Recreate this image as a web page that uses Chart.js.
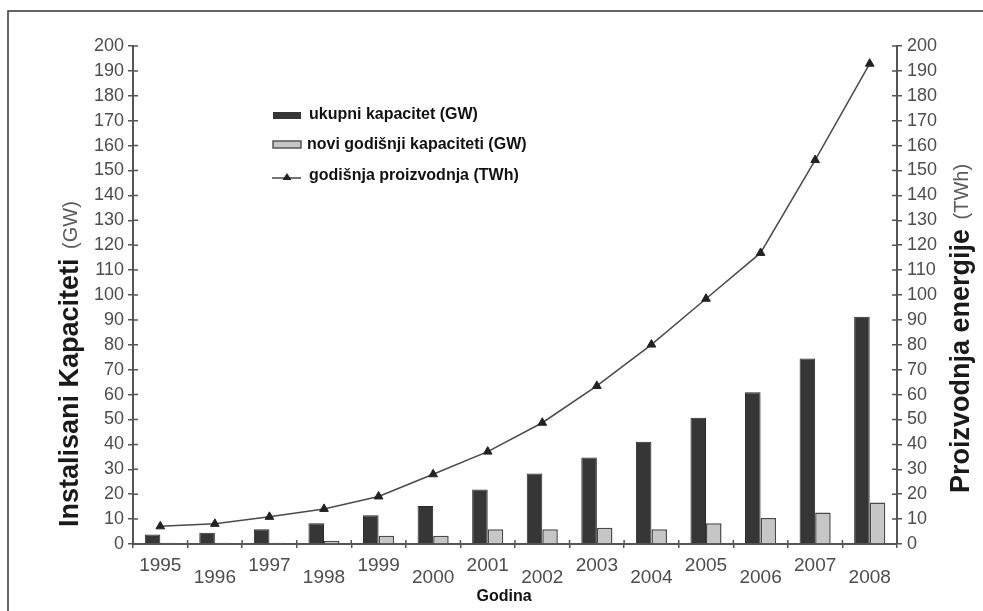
<!DOCTYPE html>
<html>
<head>
<meta charset="utf-8">
<script src="https://cdn.jsdelivr.net/npm/chart.js@4/dist/chart.umd.min.js"></script>
<style>
  body { margin: 0; background: #fff; }
  canvas { display: block; }
</style>
</head>
<body>
<canvas id="windChart" width="983" height="611"></canvas>
<script>
// godine
const years = ["1995", "1996", "1997", "1998", "1999", "2000", "2001",
  "2002", "2003", "2004", "2005", "2006", "2007", "2008"];

// ukupni kapacitet (GW)
const totalCapacity = [3.8, 4.5, 5.9, 8.3, 11.5, 15.3, 21.9, 28.3, 34.7, 41.1, 50.7, 60.9, 74.5, 91.3];
// novi godisnji kapaciteti (GW)
const newCapacity = [0.5, 0.5, 0.5, 1.3, 3.3, 3.3, 5.9, 5.9, 6.5, 5.9, 8.3, 10.4, 12.7, 16.7];
// godisnja proizvodnja (TWh)
const production = [7.1, 8.1, 10.9, 14.1, 19.1, 28, 37.1, 48.7, 63.5, 80.1, 98.5, 116.9, 154.2, 192.9];

const axisGray = "#555";
const labelGray = "#4d4d4d";

// ticks that cross the axis lines, legend, titles and frame
const extrasPlugin = {
  id: "extras",
  afterDraw(chart) {
    const ctx = chart.ctx;
    const yl = chart.scales.y, yr = chart.scales.y2, x = chart.scales.x;
    ctx.save();
    ctx.strokeStyle = axisGray;
    ctx.lineWidth = 1.5;
    ctx.beginPath();
    yl.ticks.forEach((t, i) => {
      const py = yl.getPixelForTick(i);
      ctx.moveTo(yl.right, py); ctx.lineTo(yl.right + 5, py);
    });
    yr.ticks.forEach((t, i) => {
      const py = yr.getPixelForTick(i);
      ctx.moveTo(yr.left, py); ctx.lineTo(yr.left - 5, py);
    });
    const n = years.length;
    for (let i = 0; i <= n; i++) {
      const px = x.left + i * x.width / n;
      ctx.moveTo(px, x.top); ctx.lineTo(px, x.top - 4);
    }
    ctx.stroke();

    // frame
    ctx.strokeStyle = "#333";
    ctx.lineWidth = 1.5;
    ctx.beginPath();
    ctx.moveTo(8, 611); ctx.lineTo(8, 11); ctx.lineTo(983, 11);
    ctx.stroke();

    // legend
    const ds = chart.data.datasets;
    ctx.font = "bold 16px 'Liberation Sans', Arial, sans-serif";
    ctx.textBaseline = "middle";
    ctx.textAlign = "left";
    ctx.fillStyle = "#363636";
    ctx.fillRect(273, 112, 28, 7);
    ctx.fillStyle = "#111";
    ctx.fillText(ds[0].label, 309, 115);

    ctx.fillStyle = "#c6c6c6";
    ctx.fillRect(273, 141, 28, 7);
    ctx.strokeStyle = "#555";
    ctx.lineWidth = 1.5;
    ctx.strokeRect(273, 141, 28, 7);
    ctx.fillStyle = "#111";
    ctx.fillText(ds[1].label, 307, 145);

    ctx.strokeStyle = "#444";
    ctx.lineWidth = 1.5;
    ctx.beginPath();
    ctx.moveTo(272, 178); ctx.lineTo(301, 178);
    ctx.stroke();
    ctx.fillStyle = "#222";
    ctx.beginPath();
    ctx.moveTo(287, 173); ctx.lineTo(291.5, 180); ctx.lineTo(282.5, 180);
    ctx.closePath(); ctx.fill();
    ctx.fillStyle = "#111";
    ctx.fillText(ds[2].label, 309, 176);

    // axis titles
    const vTitle = (cx, startY, main, unit) => {
      ctx.save();
      ctx.translate(cx, startY);
      ctx.rotate(-Math.PI / 2);
      ctx.textBaseline = "middle";
      ctx.textAlign = "left";
      ctx.font = "bold 27px 'Liberation Sans', Arial, sans-serif";
      ctx.fillStyle = "#1a1a1a";
      ctx.fillText(main, 0, 0);
      const w = ctx.measureText(main + " ").width;
      ctx.font = "20px 'Liberation Sans', Arial, sans-serif";
      ctx.fillStyle = "#5a5a5a";
      ctx.fillText(unit, w + 2, 0);
      ctx.restore();
    };
    vTitle(71, 527, "Instalisani Kapaciteti", "(GW)");
    vTitle(962, 493, "Proizvodnja energije", "(TWh)");

    ctx.font = "bold 16px 'Liberation Sans', Arial, sans-serif";
    ctx.fillStyle = "#111";
    ctx.textAlign = "center";
    ctx.textBaseline = "middle";
    ctx.fillText("Godina", 504, 597);
    ctx.restore();
  }
};

const yTicks = {
  stepSize: 10,
  color: labelGray,
  padding: 4,
  font: { family: "'Liberation Sans', Arial, sans-serif", size: 18 }
};

const windConfig = {
  type: "bar",
  data: {
    labels: years,
    datasets: [
      {
        label: "ukupni kapacitet (GW)",
        data: totalCapacity,
        backgroundColor: "#363636",
        borderColor: "#2a2a2a",
        borderWidth: 1,
        yAxisID: "y",
        order: 2
      },
      {
        label: "novi godišnji kapaciteti (GW)",
        data: newCapacity,
        backgroundColor: "#c6c6c6",
        borderColor: "#4a4a4a",
        borderWidth: 1.5,
        yAxisID: "y",
        order: 2
      },
      {
        type: "line",
        label: "godišnja proizvodnja (TWh)",
        data: production,
        borderColor: "#4a4a4a",
        borderWidth: 1.5,
        pointStyle: "triangle",
        pointRadius: 5,
        pointBackgroundColor: "#222",
        pointBorderColor: "#222",
        pointBorderWidth: 1,
        tension: 0,
        yAxisID: "y2",
        order: 1
      }
    ]
  },
  options: {
    responsive: false,
    animation: false,
    layout: { padding: { top: 46, left: 0, right: 0, bottom: 0 } },
    plugins: {
      legend: { display: false },
      tooltip: { enabled: false }
    },
    datasets: {
      bar: { categoryPercentage: 0.57, barPercentage: 1.0 }
    },
    scales: {
      x: {
        grid: { drawOnChartArea: false, tickLength: 4, color: axisGray, lineWidth: 1.5 },
        border: { color: axisGray, width: 2 },
        ticks: {
          autoSkip: false,
          maxRotation: 0,
          color: labelGray,
          padding: 12,
          font: { family: "'Liberation Sans', Arial, sans-serif", size: 19, lineHeight: "12px" },
          callback: (v, i) => (i % 2 ? ["", years[i]] : years[i])
        },
        afterFit: s => { s.height = 67; }
      },
      y: {
        position: "left",
        min: 0, max: 200,
        grid: { drawOnChartArea: false, tickLength: 5, color: axisGray, lineWidth: 1.5 },
        border: { color: axisGray, width: 2 },
        ticks: yTicks,
        afterFit: s => { s.width = 133; }
      },
      y2: {
        position: "right",
        min: 0, max: 200,
        grid: { drawOnChartArea: false, tickLength: 5, color: axisGray, lineWidth: 1.5 },
        border: { color: axisGray, width: 2 },
        ticks: Object.assign({}, yTicks, { padding: 5 }),
        afterFit: s => { s.width = 86; }
      }
    }
  },
  plugins: [extrasPlugin]
};

const windChart = new Chart(document.getElementById("windChart"), windConfig);
</script>
</body>
</html>
